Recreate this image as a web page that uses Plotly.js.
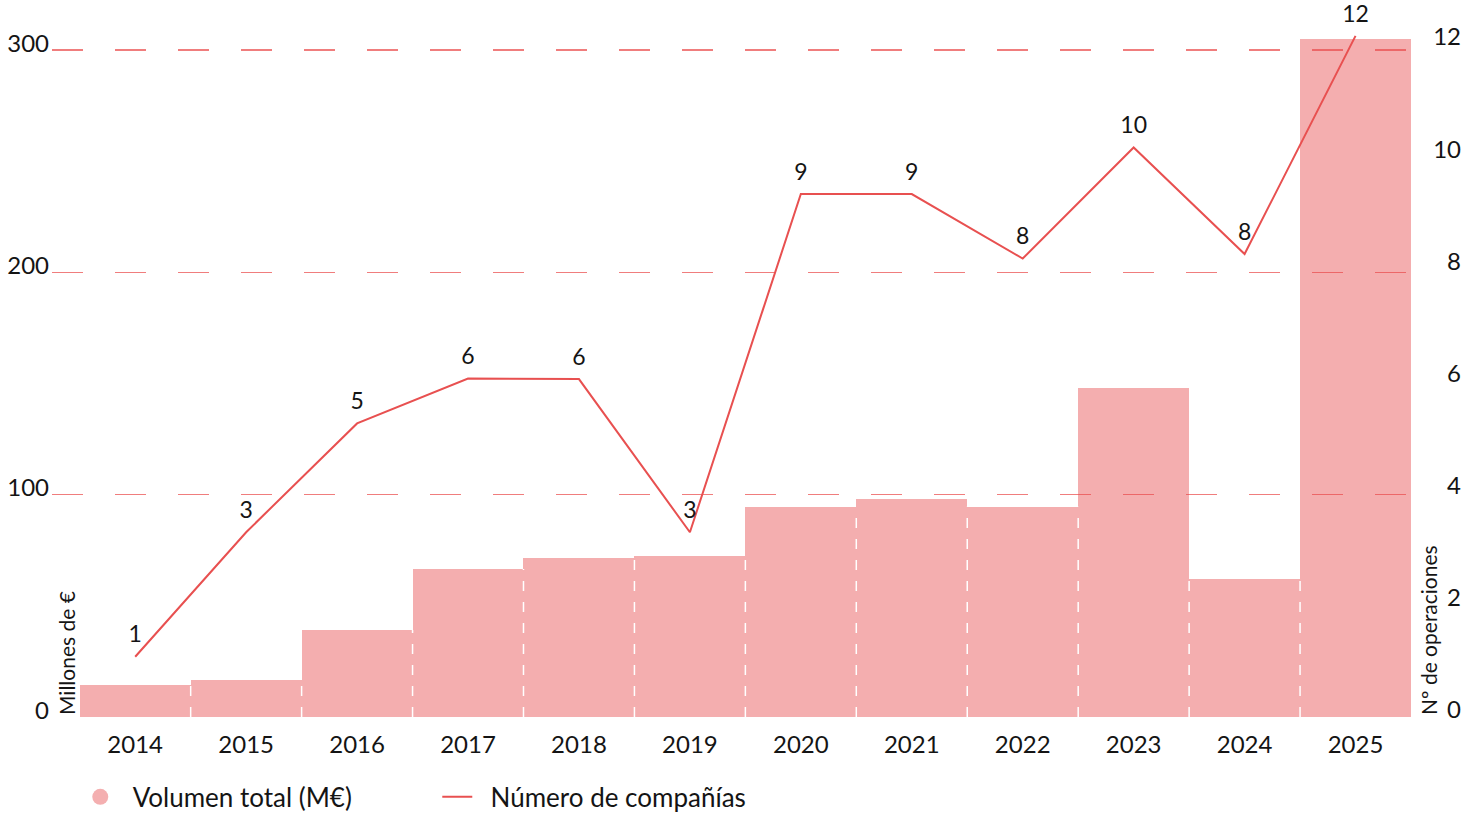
<!DOCTYPE html>
<html>
<head>
<meta charset="utf-8">
<script src="https://cdn.plot.ly/plotly-3.0.1.min.js"></script>
<style>html,body{margin:0;padding:0;background:#fff;}#chart{width:1477px;height:814px;}</style>
</head>
<body>
<div id="chart"></div>
<script>
// ---- data ----
const years = ['2014','2015','2016','2017','2018','2019','2020','2021','2022','2023','2024','2025'];
const volumen = [14.4, 16.6, 39.1, 66.6, 71.5, 72.5, 94.3, 98.1, 94.6, 148, 62.1, 305];
const operaciones = [0.95, 3.17, 5.11, 5.91, 5.90, 3.17, 9.20, 9.20, 8.05, 10.03, 8.13, 12.02];
const etiquetas = [1, 3, 5, 6, 6, 3, 9, 9, 8, 10, 8, 12];
const leftTicks = [0, 100, 200, 300];
const rightTicks = [0, 2, 4, 6, 8, 10, 12];

const FONT = 'Lato, "Noto Sans", sans-serif';
const TXT = '#141414';
const RED = 'rgb(232,80,80)';
const PINK = 'rgba(231,79,80,0.46)';
const NB = '\u00a0\u00a0';

const traces = [
  {
    type: 'bar', x: years, y: volumen, name: 'Volumen total (M€)',
    marker: {color: PINK, line: {width: 0}}, showlegend: false, hoverinfo: 'x+y'
  },
  {
    type: 'scatter', mode: 'markers', x: [null], y: [null], name: NB + 'Volumen total (M€)',
    marker: {color: 'rgb(244,175,176)', size: 22, symbol: 'circle'}, showlegend: true
  },
  {
    type: 'scatter', mode: 'lines', x: years, y: operaciones, yaxis: 'y2',
    name: NB + 'Número de compañías', line: {color: RED, width: 2}
  },
  {
    type: 'scatter', mode: 'markers+text', x: years, y: operaciones, yaxis: 'y2',
    text: etiquetas.map(String), textposition: 'top center', cliponaxis: false,
    marker: {size: 12, opacity: 0, color: RED}, showlegend: false,
    textfont: {family: FONT, size: 23, color: TXT}, hoverinfo: 'skip'
  }
];

// white dashed separators between adjacent bars (height of the lower neighbour)
const shapes = [];
for (let i = 0; i < years.length - 1; i++) {
  shapes.push({
    type: 'line', xref: 'x', yref: 'y', layer: 'above',
    x0: i + 0.5, x1: i + 0.5, y0: 0, y1: Math.min(volumen[i], volumen[i + 1]),
    line: {color: '#ffffff', width: 1.5, dash: '10px,11px'}
  });
}

const annotations = [
  {
    xref: 'paper', yref: 'paper', x: 0.0099, y: 0, xanchor: 'center', yanchor: 'bottom',
    text: 'Millones de €', textangle: -90, showarrow: false,
    font: {family: FONT, size: 21, color: TXT}
  },
  {
    xref: 'paper', yref: 'paper', x: 0.9731, y: 0, xanchor: 'center', yanchor: 'bottom',
    text: 'Nº de operaciones', textangle: -90, showarrow: false,
    font: {family: FONT, size: 21, color: TXT}
  }
];

const layout = {
  width: 1477, height: 814,
  margin: {l: 52, r: 11, t: 28, b: 97, autoexpand: false},
  paper_bgcolor: '#ffffff', plot_bgcolor: '#ffffff',
  bargap: 0,
  font: {family: FONT, color: TXT},
  xaxis: {
    type: 'category', domain: [0, 0.96110], range: [-0.75, 11.5],
    showgrid: false, zeroline: false, showline: false, ticks: '',
    tickfont: {family: FONT, size: 24, color: TXT}, ticklabelstandoff: 11
  },
  yaxis: {
    range: [0, 310], tickvals: leftTicks, ticktext: leftTicks.map(String),
    showgrid: true, gridcolor: 'rgb(240,125,125)', gridwidth: 1.5, griddash: '31px,32px',
    zeroline: true, zerolinecolor: 'rgba(0,0,0,0)', zerolinewidth: 0,
    showline: false, ticks: '', ticklabelposition: 'outside top', ticklabelstandoff: 2,
    ticklabelshift: 10,
    tickfont: {family: FONT, size: 24, color: TXT}
  },
  yaxis2: {
    overlaying: 'y', side: 'right', anchor: 'free', position: 1,
    range: [-0.125, 12.161], tickvals: rightTicks, ticktext: rightTicks.map(String),
    showgrid: false, zeroline: false, showline: false, ticks: '',
    ticklabelposition: 'inside', ticklabelstandoff: 2, ticklabeloverflow: 'allow',
    tickfont: {family: FONT, size: 24, color: TXT}
  },
  legend: {
    orientation: 'h', x: 0.02, xanchor: 'left', y: -0.116, yanchor: 'middle',
    font: {family: FONT, size: 26, color: TXT}, itemwidth: 30,
    entrywidth: 312, entrywidthmode: 'pixels', bgcolor: 'rgba(0,0,0,0)'
  },
  shapes: shapes,
  annotations: annotations,
  showlegend: true
};

Plotly.newPlot('chart', traces, layout, {displayModeBar: false, staticPlot: true});
</script>
</body>
</html>
